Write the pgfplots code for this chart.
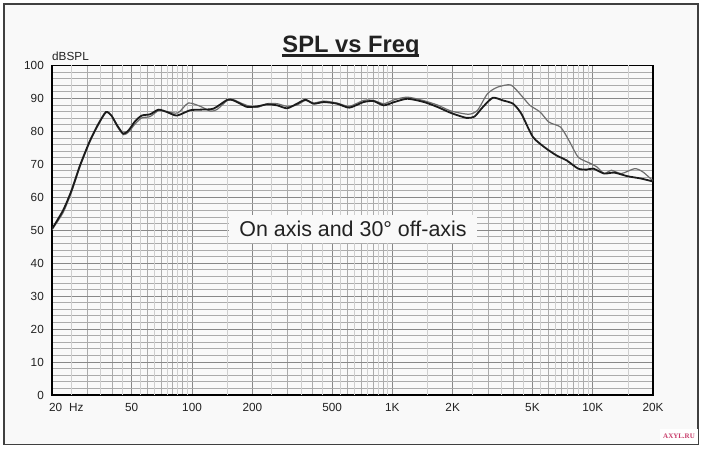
\documentclass[border=0pt]{standalone}
\usepackage{pgfplots}
\pgfplotsset{compat=1.18}
\usepackage{fontspec}
\setmainfont{Liberation Sans}
\newfontfamily\wmfont{Liberation Serif}
\definecolor{bg}{HTML}{F9F9F9}
\definecolor{gmaj}{HTML}{888888}
\definecolor{gmid}{HTML}{ABABAB}
\definecolor{glight}{HTML}{CFCFCF}
\definecolor{txt}{HTML}{222222}
\definecolor{curveA}{HTML}{1C1C1C}
\definecolor{curveB}{HTML}{6E6E6E}
\definecolor{wm}{HTML}{C83C6A}
\begin{document}
\begin{tikzpicture}[x=1bp,y=1bp]
\useasboundingbox (-52,-54) rectangle (650,395);
\fill[white] (-52,-54) rectangle (650,395);
\filldraw[fill=bg, draw=black!75, line width=1.2bp] (-48,-49.5) rectangle (646,391);
\begin{axis}[
  at={(0,0)}, anchor=south west, scale only axis,
  width=601bp, height=329.5bp,
  xmode=log, xmin=20, xmax=20000, ymin=0, ymax=100,
  axis background/.style={fill=bg},
  axis line style={line width=1.4bp, black},
  major tick length=0pt, minor tick length=0pt,
  xtick={20,50,100,200,500,1000,2000,5000,10000,20000},
  xticklabels={{\makebox[0pt][l]{\hspace{-3bp}20\hspace{7bp}Hz}},50,100,200,500,1K,2K,5K,10K,20K},
  minor xtick={30,40,60,70,80,90,300,400,600,700,800,900,3000,4000,6000,7000,8000,9000},
  extra x ticks={25,35,45,55,65,75,85,95,150,250,350,450,550,650,750,850,950,1500,2500,3500,4500,5500,6500,7500,8500,9500,15000},
  extra x tick labels={},
  extra x tick style={grid=major, major grid style={glight, line width=0.9bp}, major tick length=0pt},
  ytick={0,10,...,100},
  minor y tick num=4,
  grid=both,
  major grid style={gmaj, line width=0.9bp},
  minor grid style={gmid, line width=0.9bp},
  /pgf/number format/assume math mode=true,
  tick label style={font=\fontsize{11.8}{13}\selectfont, text=txt},
  xticklabel style={inner sep=0pt, anchor=north, yshift=-8bp},
  yticklabel style={inner sep=0pt, anchor=east, xshift=-8bp},
]
\addplot[curveB, line width=1.2bp, smooth, tension=0.4] coordinates {
(20,50.2) (22.7,55.3) (25,61.5) (27.6,69.3) (31,77) (34.1,82) (37.2,85.7) (39.6,84.8)
(42.3,81.5) (45.4,79.0) (48.2,79.8) (52,82.3) (56.1,84.1) (61.8,84.5) (68,86.3) (74.8,86.0)
(85,85.6) (95.8,88.6) (110,87.6) (123,86.2) (133,86.6) (150,89.4) (161,89.6) (174,88.7)
(190,87.8) (212,87.3) (237,88.4) (266,88.4) (298,87.6) (334,88.0) (368,89.4) (405,88.6)
(455,89.2) (530,88.6) (610,87.6) (718,89.4) (805,89.4) (906,88.4) (1022,89.6) (1190,90.4)
(1440,89.3) (1680,88.0) (1960,86.2) (2400,85.2) (2660,86.4) (2980,91.4) (3340,93.4) (3900,94.1)
(4400,90.9) (4860,87.9) (5460,85.9) (6050,82.8) (6910,81.3) (7600,77.3) (8460,72.2) (9640,70.4)
(10500,69.2) (11400,67.2) (12400,68.2) (13900,67.2) (16200,68.7) (17800,67.7) (20000,65.0)
};
\addplot[curveA, line width=1.8bp, smooth, tension=0.4] coordinates {
(20,50.4) (22.7,56) (25,62) (27.6,69.7) (31,77.3) (34.1,82.3) (37.2,85.9) (39.6,84.8)
(42.3,81.8) (45.4,79.3) (48.2,80.3) (52,83.1) (56.1,84.8) (61.8,85.2) (68,86.6) (74.8,85.9)
(84,84.8) (97.6,86.4) (110,86.6) (128,86.9) (150,89.6) (161,89.4) (174,88.4) (189,87.4)
(212,87.6) (237,88.2) (266,87.9) (298,87.0) (334,88.4) (368,89.6) (405,88.4) (455,88.9)
(530,88.4) (610,87.2) (718,88.9) (805,89.2) (906,87.9) (1022,88.9) (1190,89.9) (1440,88.9)
(1680,87.4) (1960,85.6) (2340,84.1) (2570,84.5) (2830,87.4) (3170,90.2) (3560,89.4) (4000,88.4)
(4400,85.4) (5030,78.3) (5860,74.8) (6600,72.7) (7410,71.2) (8460,68.7) (9330,68.4) (10080,68.7)
(11400,67.2) (12800,67.5) (14900,66.4) (17400,65.7) (20000,64.8)
};
\end{axis}
% annotation box
\node[fill=bg, inner sep=0pt, minimum width=248bp, minimum height=28bp,
      font=\fontsize{21.5}{24}\selectfont, text=txt] at (301,166) {On axis and 30° off-axis};
% y axis unit
\node[anchor=base west, inner sep=0pt, font=\fontsize{11.8}{13}\selectfont, text=txt] at (0,334) {dBSPL};
% title
\node[anchor=base, inner sep=0pt, font=\fontsize{23.8}{26}\selectfont\bfseries, text=txt] at (299,342) {SPL vs Freq};
\draw[txt, line width=2.6bp] (230,339.6) -- (367,339.6);
% watermark
\fill[white] (608,-49) rectangle (645.5,-34);
\node[inner sep=0pt, font=\wmfont\fontsize{7}{7}\selectfont\bfseries, text=wm] at (627,-41.5) {AXYL.RU};
\end{tikzpicture}
\end{document}
